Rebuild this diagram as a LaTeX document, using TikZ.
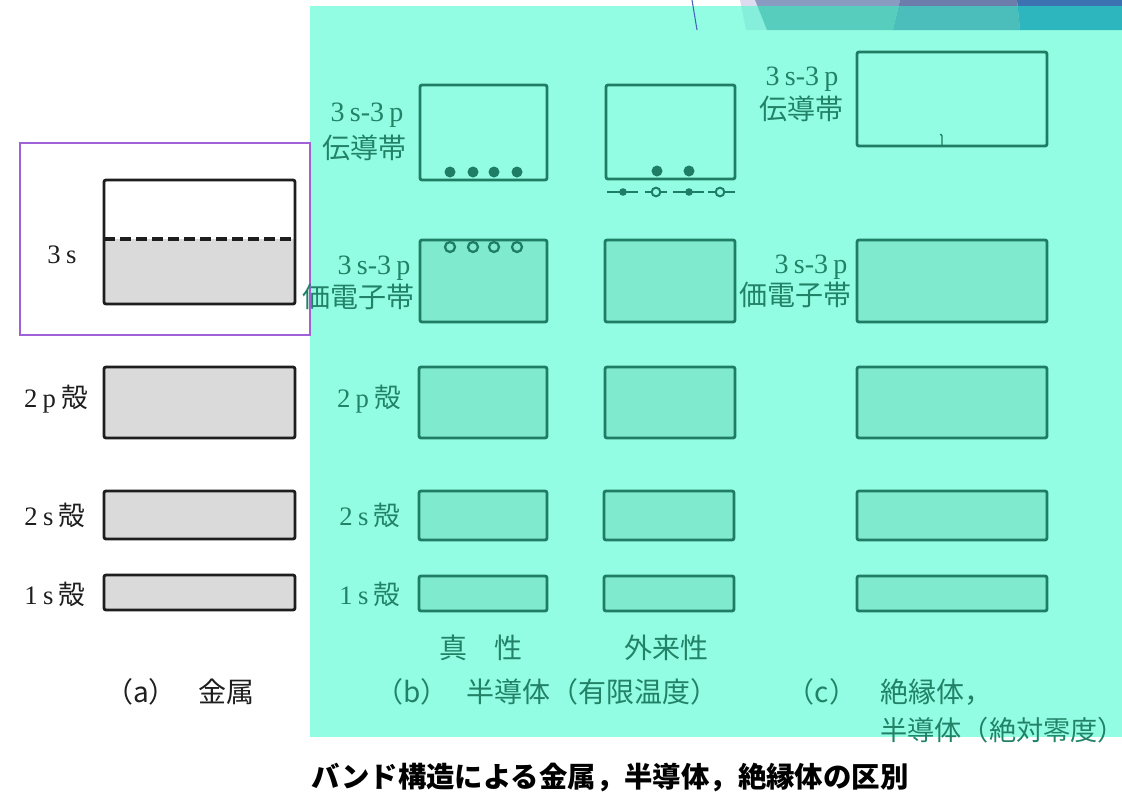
\documentclass[tikz,border=0pt]{standalone}
\usepackage{fontspec}
\setmainfont{Liberation Serif}
\newfontfamily\jp{Noto Sans CJK JP}
\definecolor{tealbg}{RGB}{146,253,226}
\definecolor{tfill}{RGB}{128,234,206}
\definecolor{tline}{RGB}{30,125,100}
\definecolor{ttext}{RGB}{34,130,104}
\definecolor{mfill}{RGB}{218,218,218}
\definecolor{mline}{RGB}{30,30,30}
\definecolor{purp}{RGB}{160,96,214}
\definecolor{dAa}{RGB}{220,220,238}
\definecolor{dBa}{RGB}{138,155,194}
\definecolor{dCa}{RGB}{108,124,171}
\definecolor{dDa}{RGB}{60,114,177}
\definecolor{dAb}{RGB}{134,239,219}
\definecolor{dBb}{RGB}{87,205,190}
\definecolor{dCb}{RGB}{75,189,186}
\definecolor{dDb}{RGB}{46,182,190}
\definecolor{thinblue}{RGB}{70,100,190}
\tikzset{
  mbox/.style={draw=mline, line width=2.1pt, fill=mfill, rounded corners=1.5pt},
  tbox/.style={draw=tline, line width=2.1pt, fill=tfill, rounded corners=1.5pt},
  tcond/.style={draw=tline, line width=2.1pt, rounded corners=1.5pt},
  blbl/.style={inner sep=0pt, text=mline, font=\fontsize{20pt}{22pt}\selectfont},
  tlbl/.style={inner sep=0pt, text=ttext, font=\fontsize{20pt}{22pt}\selectfont},
  bandlbl/.style={inner sep=0pt, text=ttext, font=\fontsize{21pt}{22pt}\selectfont},
  botlbl/.style={inner sep=0pt, font=\fontsize{21pt}{24pt}\selectfont},
  elec/.style={fill=tline, draw=none},
  hole/.style={draw=tline, line width=1.7pt, fill=tfill},
}
\newcommand{\tsp}{3\kern4pt s-3\kern4pt p}
\newcommand{\shell}[2]{#1\kern4pt #2\kern4pt{\jp 殻}}
\begin{document}
\begin{tikzpicture}[x=0.75pt,y=-0.75pt]
\useasboundingbox (0,0) rectangle (1122,808);
\fill[white] (0,0) rectangle (1122,808);
% top decoration (above teal)
\begin{scope}
\clip (0,0) rectangle (1122,6);
\fill[dAa] (740,0)--(755,0)--(767,30)--(746,30)--cycle;
\fill[dBa] (755,0)--(900,0)--(893,30)--(767,30)--cycle;
\fill[dCa] (900,0)--(1017,0)--(1020,30)--(893,30)--cycle;
\fill[dDa] (1017,0)--(1122,0)--(1122,30)--(1020,30)--cycle;
\end{scope}
% teal panel
\fill[tealbg] (310,6) rectangle (1122,737);
\begin{scope}
\clip (0,6) rectangle (1122,30);
\fill[dAb] (740,0)--(755,0)--(767,30)--(746,30)--cycle;
\fill[dBb] (755,0)--(900,0)--(893,30)--(767,30)--cycle;
\fill[dCb] (900,0)--(1017,0)--(1020,30)--(893,30)--cycle;
\fill[dDb] (1017,0)--(1122,0)--(1122,30)--(1020,30)--cycle;
\end{scope}
\draw[thinblue, line width=0.8pt] (692,0)--(697,30);
% purple frame
\draw[purp, line width=1.2pt] (20,143) rectangle (310,335);

% ---------- (a) metal ----------
\fill[mfill] (104,239) rectangle (295,304);
\draw[draw=mline, line width=2.1pt, rounded corners=1.5pt] (104,180) rectangle (295,304);
\draw[mline, line width=2.4pt, dash pattern=on 8pt off 4pt] (104,239) -- (295,239);
\draw[mbox] (104,367) rectangle (295,438);
\draw[mbox] (104,491) rectangle (295,539);
\draw[mbox] (104,575) rectangle (295,610);
\node[blbl] (m3s) at (62,255) {3\kern4pt s};
\node[blbl] (m2p) at (56,399) {\shell{2}{p}};
\node[blbl] (m2s) at (55,515) {\shell{2}{s}};
\node[blbl] (m1s) at (55,594) {\shell{1}{s}};

% ---------- (b) intrinsic ----------
\draw[tcond] (420,85) rectangle (547,180);
\draw[tbox] (420,240) rectangle (547,322);
\draw[tbox] (419,367) rectangle (547,438);
\draw[tbox] (419,491) rectangle (547,540);
\draw[tbox] (419,576) rectangle (547,611);
\foreach \x in {450,473,494,517} {
  \fill[elec] (\x,172) circle (5.5);
  \draw[hole] (\x,247) circle (5);
}
\node[bandlbl] (icb1) at (367,115) {\tsp};
\node[bandlbl] (icb2) at (364,148) {\jp 伝導帯};
\node[bandlbl] (ivb1) at (374,268) {\tsp};
\node[bandlbl] (ivb2) at (358,297) {\jp 価電子帯};
\node[tlbl] (i2p) at (369,399) {\shell{2}{p}};
\node[tlbl] (i2s) at (370,515) {\shell{2}{s}};
\node[tlbl] (i1s) at (370,594) {\shell{1}{s}};
\node[bandlbl] (ilab) at (481,648) {\jp 真\hspace{20pt}性};

% ---------- (b) extrinsic ----------
\draw[tcond] (606,85) rectangle (735,179);
\draw[tbox] (605,240) rectangle (735,322);
\draw[tbox] (605,367) rectangle (735,438);
\draw[tbox] (604,491) rectangle (734,540);
\draw[tbox] (604,576) rectangle (734,611);
\fill[elec] (657,171) circle (5.5);
\fill[elec] (689,171) circle (5.5);
\draw[tline, line width=1pt] (607,192)--(638,192) (645,192)--(667,192) (673,192)--(704,192) (708,192)--(735,192);
\fill[elec] (623,192) circle (3.8);
\fill[elec] (689,192) circle (3.8);
\draw[tline, line width=1.5pt, fill=tealbg] (656,192) circle (4.3);
\draw[tline, line width=1.5pt, fill=tealbg] (720,192) circle (4.3);
\node[bandlbl] (elab) at (666,648) {\jp 外来性};

% ---------- (c) insulator ----------
\draw[tcond] (857,52) rectangle (1047,146);
\draw[tline, line width=1.1pt] (942,146)--(942,136)--(940.5,134);
\draw[tbox] (857,240) rectangle (1047,322);
\draw[tbox] (857,367) rectangle (1047,438);
\draw[tbox] (857,491) rectangle (1047,540);
\draw[tbox] (857,576) rectangle (1047,611);
\node[bandlbl] (ccb1) at (802,79) {\tsp};
\node[bandlbl] (ccb2) at (801,109) {\jp 伝導帯};
\node[bandlbl] (cvb1) at (811,267) {\tsp};
\node[bandlbl] (cvb2) at (795,295) {\jp 価電子帯};

% ---------- bottom labels ----------
\node[botlbl, text=mline] (la) at (141,692) {\jp （a）};
\node[botlbl, text=mline] (lam) at (226,692) {\jp 金属};
\node[botlbl, text=ttext] (lb) at (412,692) {\jp （b）};
\node[botlbl, text=ttext, anchor=west] (lbm) at (466,692) {\jp 半導体（有限温度）};
\node[botlbl, text=ttext] (lc) at (822,692) {\jp （c）};
\node[botlbl, text=ttext, anchor=west] (lcm) at (880,692) {\jp 絶縁体，};
\node[inner sep=0pt, text=ttext, anchor=west, font=\fontsize{20.4pt}{24pt}\selectfont] (lcm2) at (880,730) {\jp 半導体（絶対零度）};
\node[inner sep=0pt, text=black, font=\fontsize{21.3pt}{24pt}\selectfont\jp\bfseries] (cap) at (610,777) {バンド構造による金属，半導体，絶縁体の区別};
\end{tikzpicture}
\end{document}
